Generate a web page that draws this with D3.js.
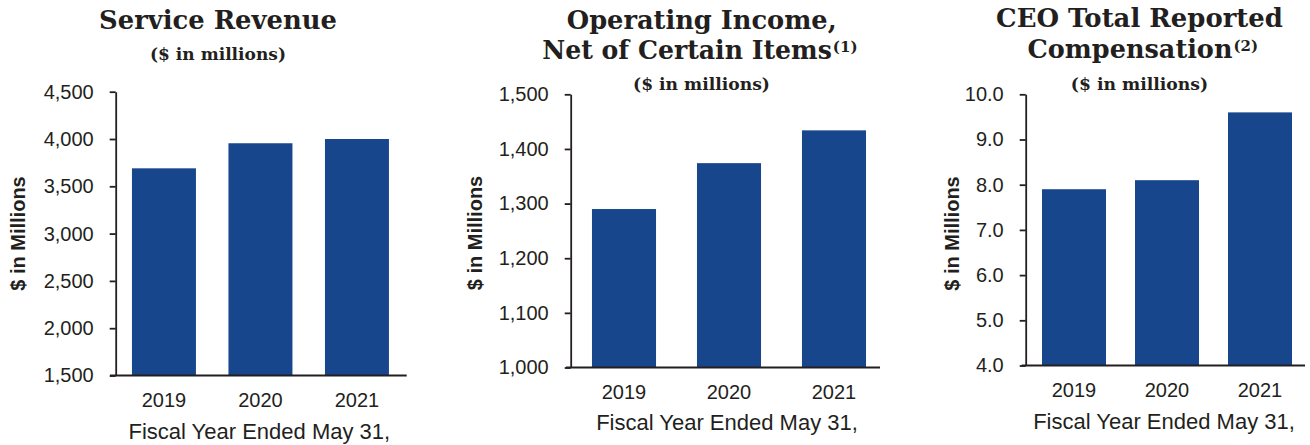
<!DOCTYPE html>
<html>
<head>
<meta charset="utf-8">
<script src="https://cdn.jsdelivr.net/npm/d3@7"></script>
<style>
  body { margin: 0; background: #fff; }
  text { fill: #231f20; }
  .tick text { font-family: "Liberation Sans", Arial, sans-serif; font-size: 20px; }
  .title { font-family: "DejaVu Serif", serif; font-weight: bold; }
  .ylab { font-family: "Liberation Sans", Arial, sans-serif; font-weight: bold; font-size: 20px; }
  .xlab { font-family: "Liberation Sans", Arial, sans-serif; font-size: 22px; }
</style>
</head>
<body>
<svg id="chart" width="1310" height="445"></svg>
<script>
var years = ["2019", "2020", "2021"];
var serviceRevenue = [3690, 3955, 4000];
var operatingIncome = [1290, 1374, 1434];
var ceoCompensation = [7.9, 8.1, 9.6];
var revenueTicks = [1500, 2000, 2500, 3000, 3500, 4000, 4500];
var incomeTicks = [1000, 1100, 1200, 1300, 1400, 1500];
var compTicks = [4, 5, 6, 7, 8, 9, 10];

var barColor = "#17468c";
var svg = d3.select("#chart");

// layout of the three panels
var panels = [
    {
        values: serviceRevenue, ticks: revenueTicks, fmt: d3.format(","),
        axisX: 115.7, lineX: [110, 406.7], band: [115.7, 405.2], pad: 0.337,
        yRange: [375.5, 91.7],
        yLabel: [18, 233.5], fiscal: [259.3, 439],
        titles: [{ text: "Service Revenue", x: 218, y: 29.3, w: 238 }],
        sub: { x: 218, y: 60, w: 136 }
    },
    {
        values: operatingIncome, ticks: incomeTicks, fmt: d3.format(","),
        axisX: 570.7, lineX: [566, 880], band: [571.5, 886.5], pad: 0.39,
        yRange: [367.5, 94.3],
        yLabel: [475, 233], fiscal: [727, 430],
        titles: [
            { text: "Operating Income,", x: 701.7, y: 29.3, w: 270 },
            { text: "Net of Certain Items", sup: "(1)", x: 687, y: 59.3, w: 290 }
        ],
        sub: { x: 701.5, y: 90, w: 137 }
    },
    {
        values: ceoCompensation, ticks: compTicks, fmt: d3.format(".1f"),
        axisX: 1025.7, lineX: [1021.7, 1305], band: [1027.5, 1306.5], pad: 0.312,
        yRange: [365.5, 94.3],
        yLabel: [952, 233.5], fiscal: [1164, 428.5],
        titles: [
            { text: "CEO Total Reported", x: 1139.5, y: 27.3, w: 287 },
            { text: "Compensation", sup: "(2)", x: 1130, y: 58.3, w: 205 }
        ],
        sub: { x: 1139.5, y: 90, w: 137.5 }
    }
];

// size the text so it spans the measured width
function fitText(sel, size, w) {
    sel.style("font-size", size + "px");
    var len = sel.node().getComputedTextLength();
    sel.style("font-size", (size * w / len) + "px");
}

panels.forEach(function(p) {
    var g = svg.append("g");

    var x = d3.scaleBand()
        .domain(years)
        .range(p.band)
        .paddingInner(p.pad)
        .paddingOuter(p.pad / 2);

    var y = d3.scaleLinear()
        .domain(d3.extent(p.ticks))
        .range(p.yRange);

    g.selectAll(".bar")
        .data(p.values)
        .enter()
        .append("rect")
        .attr("class", "bar")
        .attr("x", function(d, i) { return x(years[i]); })
        .attr("width", x.bandwidth())
        .attr("y", function(d) { return y(d); })
        .attr("height", function(d) { return y.range()[0] - y(d); })
        .style("fill", barColor);

    var yAxis = g.append("g")
        .attr("transform", "translate(" + p.axisX + ",0)")
        .call(d3.axisLeft(y)
            .tickValues(p.ticks)
            .tickFormat(p.fmt)
            .tickSize(6)
            .tickSizeOuter(0)
            .tickPadding(16));
    yAxis.selectAll("path, line").attr("stroke", "#231f20").attr("stroke-width", 1.8);

    var xAxis = g.append("g")
        .attr("transform", "translate(0," + p.yRange[0] + ")")
        .call(d3.axisBottom(x).tickSize(0).tickPadding(17));
    xAxis.select(".domain").remove();
    xAxis.append("line")
        .attr("x1", p.lineX[0])
        .attr("x2", p.lineX[1])
        .attr("stroke", "#231f20")
        .attr("stroke-width", 1.8);

    svg.selectAll(".tick text").attr("fill", "#231f20");

    g.append("text")
        .attr("class", "ylab")
        .attr("text-anchor", "middle")
        .attr("dominant-baseline", "central")
        .attr("transform", "translate(" + p.yLabel[0] + "," + p.yLabel[1] + ") rotate(-90)")
        .text("$ in Millions");

    g.append("text")
        .attr("class", "xlab")
        .attr("text-anchor", "middle")
        .attr("x", p.fiscal[0])
        .attr("y", p.fiscal[1])
        .text("Fiscal Year Ended May 31,");

    p.titles.forEach(function(t) {
        var txt = g.append("text")
            .attr("class", "title")
            .attr("text-anchor", "middle")
            .attr("x", t.x)
            .attr("y", t.y)
            .text(t.text);
        fitText(txt, 26.5, t.w);
        if (t.sup) {
            // footnote marker as its own text, set just after the line
            var box = txt.node().getBBox();
            g.append("text")
                .attr("class", "title")
                .attr("x", box.x + box.width + 1)
                .attr("y", t.y - 7)
                .style("font-size", "15px")
                .text(t.sup);
        }
    });

    var sub = g.append("text")
        .attr("class", "title")
        .attr("text-anchor", "middle")
        .attr("x", p.sub.x)
        .attr("y", p.sub.y)
        .text("($ in millions)");
    fitText(sub, 17, p.sub.w);
});
</script>
</body>
</html>
